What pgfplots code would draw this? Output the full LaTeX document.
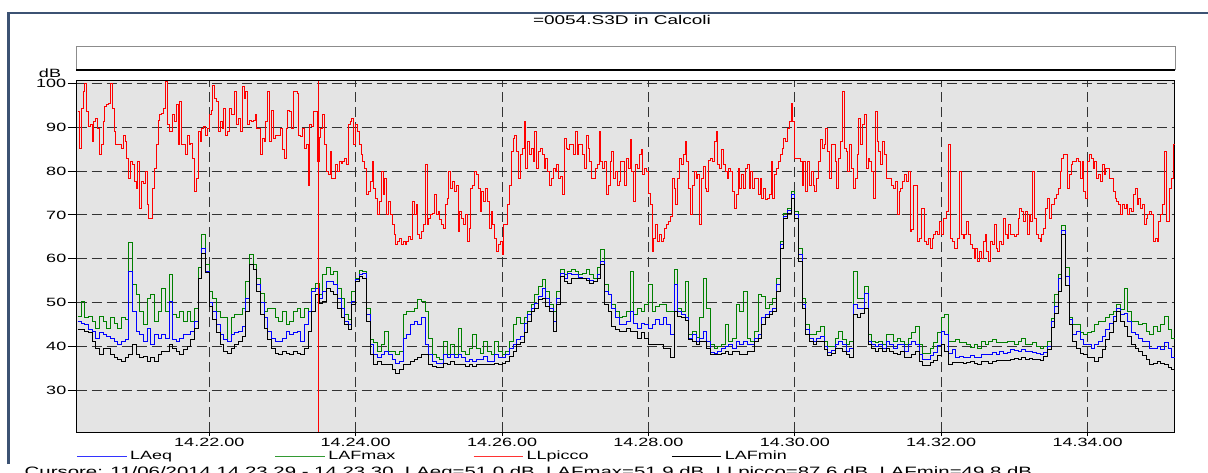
\documentclass[border=0pt]{standalone}
\usepackage{fontspec}
\setmainfont{Liberation Sans}
\newfontfamily\wfont[FakeStretch=1.5]{Liberation Sans}
\usepackage{pgfplots}
\usepackage{pgfplotstable}
\pgfplotsset{compat=1.18}
\definecolor{winframe}{RGB}{60,82,115}
\definecolor{plotbg}{RGB}{228,228,228}
\definecolor{lgreen}{RGB}{0,128,0}

% LAFmax (G), LAeq (B), LAFmin (K), 3 s steps
\pgfplotstableread{
t G B K
12 46.8 45.7 43.8
15 50.3 45.3 43.8
18 46.5 44.9 43.4
21 46.8 43.8 43.1
24 45.7 43.4 41.2
27 44.2 41.9 39.6
30 46.8 43.1 38.1
33 45.7 42.7 39.6
36 44.2 42.3 39.6
39 46.5 41.9 38.1
42 45.3 41.2 37.4
45 44.2 40.4 37.0
48 46.5 41.2 36.6
51 46.1 41.5 37.4
54 63.6 57.1 38.1
57 54.1 48.0 40.4
60 51.8 43.4 38.1
63 48.0 42.7 37.4
66 44.9 41.2 37.8
69 51.0 44.2 36.6
72 51.8 40.4 37.4
75 45.7 42.7 36.6
78 48.0 41.9 38.1
81 53.3 42.7 38.9
84 48.0 41.9 38.9
87 56.3 50.3 40.4
90 47.2 41.5 39.6
93 46.5 41.2 38.9
96 48.0 41.9 38.1
99 45.7 42.7 39.3
102 48.0 42.7 40.0
105 45.7 43.4 41.5
108 48.7 45.7 44.2
111 57.9 55.6 55.6
114 65.5 62.4 61.3
117 58.6 57.1 56.8
120 52.5 50.0 49.0
123 51.0 48.0 46.1
126 48.0 44.9 43.1
129 46.5 42.7 40.4
132 46.5 41.5 38.9
135 41.2 41.2 38.5
138 46.5 42.7 39.6
141 47.2 43.1 40.4
144 47.2 43.4 41.2
147 48.7 44.6 42.3
150 54.8 51.0 48.0
153 60.9 58.6 58.6
156 58.6 57.5 57.5
159 55.6 54.1 52.5
162 52.0 50.0 47.2
165 48.0 46.5 44.2
168 48.7 43.4 41.5
171 48.7 41.9 39.6
174 46.5 41.2 38.5
177 45.7 41.2 38.1
180 48.0 41.9 38.9
183 44.9 43.4 38.5
186 45.7 42.7 38.1
189 48.0 43.1 38.9
192 48.7 43.4 38.5
195 46.5 41.2 38.1
198 48.7 44.9 39.6
201 48.0 48.0 43.4
204 53.3 52.5 48.0
207 54.4 53.3 51.8
210 51.9 51.0 49.8
213 56.3 52.5 50.3
216 57.9 54.8 53.3
219 56.3 54.8 52.5
222 57.1 54.1 51.8
225 53.3 51.0 48.7
228 51.0 48.7 46.5
231 47.2 45.7 44.9
234 46.1 44.9 43.8
237 52.5 50.3 49.5
240 55.6 55.2 54.8
243 57.3 56.3 56.0
246 57.1 56.7 55.6
249 48.7 47.2 45.7
252 41.5 40.4 38.1
255 40.8 38.1 35.8
258 38.9 37.4 36.6
261 40.4 38.1 35.8
264 43.4 38.9 35.8
267 38.9 38.1 35.8
270 38.9 37.0 34.7
273 38.1 36.2 33.9
276 38.9 36.6 34.7
279 47.2 41.9 35.8
282 48.0 42.7 35.8
285 48.0 44.9 36.6
288 48.7 45.7 37.0
291 50.6 44.9 37.4
294 50.3 46.5 38.1
297 48.0 40.4 38.1
300 41.9 38.1 35.8
303 38.1 36.6 35.5
306 37.4 36.2 35.1
309 37.0 36.2 35.1
312 41.2 38.1 36.2
315 38.1 37.4 35.8
318 40.4 38.1 36.6
321 38.1 37.4 35.8
324 44.2 38.1 35.8
327 38.9 37.4 35.8
330 38.1 36.6 35.5
333 39.6 37.0 35.8
336 42.7 36.6 35.5
339 39.6 37.0 35.8
342 38.5 37.0 35.8
345 41.2 37.8 35.8
348 38.9 36.6 35.8
351 38.1 36.6 35.8
354 41.2 38.1 36.2
357 38.9 37.4 35.8
360 38.1 37.4 36.2
363 38.9 38.1 36.6
366 41.2 39.6 37.8
369 44.9 40.4 38.9
372 46.5 41.5 40.4
375 45.3 42.3 40.8
378 46.5 45.3 43.1
381 48.0 47.2 45.7
384 49.5 48.7 48.0
387 51.8 49.9 48.7
390 53.7 51.4 50.6
393 55.2 53.3 51.0
396 52.5 51.0 49.1
399 49.5 48.7 48.0
402 48.0 45.7 43.4
405 52.5 51.0 49.5
408 57.5 56.7 56.0
411 56.3 55.6 54.8
414 57.1 56.7 54.4
417 57.5 56.3 55.6
420 57.1 56.3 55.6
423 56.3 55.7 55.6
426 56.7 55.6 55.4
429 57.5 55.6 55.0
432 56.3 55.0 54.4
435 55.6 54.8 54.8
438 57.9 56.3 55.6
441 62.0 59.4 58.6
444 54.1 52.5 49.5
447 51.8 51.8 48.0
450 49.5 48.7 44.6
453 48.0 46.5 43.8
456 46.5 44.9 43.4
459 46.8 44.9 43.4
462 48.0 45.7 44.2
465 57.1 48.0 43.4
468 47.2 45.3 43.4
471 48.7 44.2 41.9
474 48.0 45.3 43.1
477 49.5 44.9 41.9
480 54.1 44.2 40.4
483 48.0 44.9 40.4
486 49.1 46.1 40.4
489 49.5 44.9 40.4
492 49.5 46.5 39.6
495 48.0 44.9 39.6
498 48.0 42.7 37.4
501 57.5 54.1 48.0
504 48.7 48.0 46.8
507 48.0 47.2 46.5
510 54.8 46.5 46.0
513 42.7 41.9 41.5
516 43.4 42.7 41.2
519 42.0 41.2 40.4
522 46.5 41.9 41.2
525 55.6 43.4 41.2
528 48.7 41.2 39.6
531 40.4 38.7 38.1
534 39.6 38.5 38.1
537 40.0 38.9 38.1
540 40.4 39.5 38.5
543 44.9 40.0 38.9
546 41.2 40.4 38.1
549 41.9 39.6 38.9
552 49.5 41.2 38.9
555 48.0 40.4 38.1
558 52.5 41.2 38.1
561 41.9 40.4 38.9
564 41.2 40.4 38.9
567 43.4 41.9 41.2
570 51.8 42.7 41.9
573 51.4 46.5 44.9
576 48.7 47.2 46.5
579 49.5 48.0 47.2
582 51.0 48.7 48.0
585 55.6 54.1 52.5
588 63.9 63.2 62.4
591 70.4 69.6 69.2
594 71.5 71.1 70.4
597 75.3 74.6 73.8
600 70.8 70.0 69.2
603 62.4 60.9 59.4
606 51.0 49.5 48.7
609 44.9 43.8 42.7
612 42.7 41.9 41.2
615 42.7 41.2 40.4
618 43.4 41.9 41.2
621 44.6 42.3 41.2
624 41.2 40.0 39.3
627 40.0 38.7 38.0
630 40.0 39.0 38.3
633 41.9 40.4 39.6
636 43.4 41.2 39.6
639 41.5 40.4 38.9
642 40.4 38.9 38.1
645 41.2 39.6 37.4
648 57.1 49.5 47.2
651 51.0 48.7 46.5
654 51.0 48.7 47.6
657 53.7 52.1 48.7
660 42.7 41.2 40.4
663 41.2 40.4 39.6
666 40.8 40.0 38.9
669 41.2 40.4 39.6
672 40.4 39.6 38.9
675 42.7 41.2 39.6
678 42.7 40.4 38.9
681 41.2 39.6 38.5
684 41.9 40.4 38.1
687 41.2 40.4 38.9
690 40.4 38.9 37.4
693 41.9 40.4 37.4
696 43.1 41.2 38.1
699 44.6 40.4 38.9
702 40.4 38.1 36.6
705 38.5 37.0 35.7
708 38.5 37.0 35.7
711 39.5 37.9 36.4
714 40.8 38.7 36.9
717 43.1 40.2 38.0
720 46.5 43.4 40.4
723 47.2 42.7 38.9
726 41.2 38.5 36.0
729 41.2 39.3 36.4
732 41.5 37.5 36.4
735 40.8 37.8 36.4
738 40.8 37.4 36.1
741 40.4 37.4 36.4
744 39.8 37.9 36.6
747 40.4 37.4 36.2
750 39.6 37.4 35.8
753 41.2 38.1 36.6
756 40.4 38.1 36.6
759 41.2 38.1 36.2
762 41.5 38.7 36.6
765 40.8 38.2 36.8
768 40.8 38.9 36.8
771 40.8 38.4 36.7
774 41.2 38.7 36.9
777 41.2 39.2 37.0
780 40.5 39.0 37.3
783 41.2 38.9 37.0
786 41.9 39.3 37.4
789 40.4 38.9 37.0
792 40.4 38.9 37.2
795 41.0 38.7 37.1
798 40.0 38.3 37.1
801 39.6 38.1 36.7
804 40.0 38.7 37.8
807 41.2 40.0 39.3
810 46.3 45.8 44.3
813 51.8 49.1 47.6
816 56.3 55.6 52.5
819 67.5 66.5 65.5
822 58.0 56.0 54.0
825 46.5 46.1 44.9
828 44.9 42.7 41.2
831 44.9 43.4 39.6
834 43.1 41.5 38.5
837 42.7 40.4 38.1
840 43.1 40.4 37.5
843 43.4 39.6 37.4
846 44.9 40.4 36.6
849 45.7 41.2 37.4
852 45.7 42.3 39.3
855 46.5 43.8 41.5
858 47.2 45.3 43.1
861 48.0 46.8 45.7
864 49.5 48.7 48.0
867 48.4 47.2 45.7
870 53.3 47.6 44.6
873 48.0 45.7 42.3
876 45.7 43.1 40.4
879 45.7 42.7 39.6
882 44.9 41.9 38.9
885 45.3 41.2 38.0
888 43.4 41.2 37.0
891 42.7 39.6 35.8
894 44.6 39.6 36.2
897 43.4 40.0 36.6
900 44.9 39.3 36.2
903 46.8 40.8 35.8
906 43.8 39.6 35.2
909 41.9 37.5 34.7
912 43.4 38.9 35.1
}\lowdata

% LLpicco, 1.5 s steps
\pgfplotstableread{
t R
12 93.5
13.5 85.2
15 94.3
16.5 98.1
18 100.0
19.5 93.5
21 90.1
22.5 90.5
24 86.7
25.5 91.3
27 92.0
28.5 89.7
30 83.7
31.5 86.0
33 91.3
34.5 94.7
36 95.1
37.5 95.4
39 100.0
40.5 94.3
42 89.0
43.5 86.0
45 86.0
46.5 86.0
48 85.2
49.5 88.2
51 86.7
52.5 82.9
54 78.4
55.5 82.2
57 81.4
58.5 77.6
60 76.1
61.5 82.2
63 71.5
64.5 77.6
66 77.2
67.5 79.9
69 72.3
70.5 69.2
72 69.2
73.5 76.1
75 80.6
76.5 86.0
78 91.6
79.5 92.8
81 93.2
82.5 94.3
84 100.3
85.5 90.5
87 89.0
88.5 89.0
90 92.8
91.5 91.3
93 95.1
94.5 86.0
96 95.8
97.5 86.0
99 86.0
100.5 83.7
102 88.2
103.5 86.0
105 86.3
106.5 82.9
108 75.3
109.5 78.4
111 89.0
112.5 86.7
114 89.7
115.5 90.1
117 88.2
118.5 89.7
120 92.8
121.5 93.9
123 99.6
124.5 96.6
126 95.8
127.5 89.0
129 91.3
130.5 89.7
132 94.3
133.5 88.2
135 89.0
136.5 94.3
138 92.8
139.5 92.8
141 98.1
142.5 90.5
144 92.0
145.5 89.0
147 99.2
148.5 96.6
150 98.1
151.5 90.5
153 91.6
154.5 91.3
156 91.6
157.5 92.8
159 89.7
160.5 89.7
162 83.7
163.5 87.5
165 86.7
166.5 91.3
168 98.1
169.5 86.7
171 93.9
172.5 87.5
174 88.2
175.5 88.2
177 88.1
178.5 89.7
180 84.8
181.5 82.9
183 89.7
184.5 93.9
186 93.5
187.5 89.7
189 98.1
190.5 98.1
192 97.7
193.5 88.2
195 87.9
196.5 89.7
198 85.2
199.5 86.0
201 76.8
202.5 90.5
204 90.1
205.5 93.5
207 93.5
208.5 82.2
210 87.6
211.5 89.7
213 92.8
214.5 86.0
216 79.9
217.5 79.1
219 84.4
220.5 78.4
222 78.4
223.5 81.4
225 79.9
226.5 82.2
228 81.8
229.5 82.2
231 82.9
232.5 81.4
234 90.5
235.5 91.3
237 92.0
238.5 86.0
240 90.5
241.5 89.0
243 86.0
244.5 83.7
246 82.2
247.5 80.6
249 74.6
250.5 75.3
252 77.5
253.5 82.2
255 76.1
256.5 73.8
258 70.0
259.5 73.0
261 79.9
262.5 74.6
264 78.4
265.5 70.0
267 73.0
268.5 70.0
270 67.7
271.5 65.5
273 63.2
274.5 63.9
276 64.7
277.5 63.2
279 63.9
280.5 63.2
282 63.9
283.5 65.1
285 64.3
286.5 73.0
288 70.0
289.5 72.3
291 65.5
292.5 64.7
294 66.2
295.5 67.7
297 81.4
298.5 67.7
300 69.2
301.5 70.0
303 70.4
304.5 74.6
306 70.0
307.5 70.8
309 68.9
310.5 67.7
312 67.0
313.5 72.3
315 73.8
316.5 79.9
318 76.1
319.5 77.6
321 75.3
322.5 76.8
324 66.2
325.5 70.8
327 69.2
328.5 67.7
330 70.0
331.5 63.9
333 67.0
334.5 76.1
336 76.8
337.5 79.9
339 79.1
340.5 76.1
342 70.8
343.5 75.3
345 73.0
346.5 76.1
348 73.0
349.5 67.0
351 70.8
352.5 67.7
354 64.7
355.5 61.7
357 63.2
358.5 63.9
360 60.9
361.5 67.7
363 67.7
364.5 72.3
366 76.8
367.5 84.4
369 87.5
370.5 88.2
372 84.4
373.5 78.4
375 83.7
376.5 85.2
378 91.3
379.5 80.6
381 86.7
382.5 83.7
384 85.2
385.5 82.2
387 89.0
388.5 80.6
390 84.4
391.5 85.2
393 83.7
394.5 80.6
396 82.9
397.5 79.9
399 76.8
400.5 78.4
402 80.6
403.5 79.9
405 81.4
406.5 78.4
408 78.7
409.5 74.6
411 87.5
412.5 85.2
414 84.8
415.5 86.0
417 86.0
418.5 83.7
420 89.0
421.5 83.7
423 86.0
424.5 86.0
426 83.7
427.5 80.6
429 88.2
430.5 85.2
432 82.2
433.5 78.4
435 78.4
436.5 80.6
438 81.4
439.5 89.0
441 82.2
442.5 80.6
444 82.2
445.5 74.6
447 76.8
448.5 82.2
450 84.4
451.5 78.4
453 79.9
454.5 76.8
456 77.5
457.5 82.2
459 82.2
460.5 76.8
462 82.9
463.5 80.6
465 87.1
466.5 79.9
468 73.0
469.5 81.4
471 80.6
472.5 83.7
474 84.8
475.5 79.1
477 80.6
478.5 79.9
480 74.9
481.5 72.3
483 61.7
484.5 64.7
486 67.7
487.5 63.9
489 65.5
490.5 63.9
492 64.7
493.5 67.0
495 67.7
496.5 68.5
498 69.6
499.5 78.4
501 76.1
502.5 72.3
504 78.4
505.5 82.9
507 81.4
508.5 83.7
510 86.7
511.5 82.2
513 76.1
514.5 70.0
516 76.8
517.5 79.9
519 78.4
520.5 79.1
522 67.7
523.5 78.4
525 81.0
526.5 76.1
528 75.3
529.5 82.5
531 82.9
532.5 82.2
534 86.7
535.5 89.0
537 81.4
538.5 80.6
540 84.8
541.5 81.4
543 79.9
544.5 78.4
546 80.6
547.5 79.9
549 75.3
550.5 71.5
552 74.6
553.5 80.6
555 76.1
556.5 79.1
558 76.1
559.5 80.6
561 81.4
562.5 76.1
564 79.9
565.5 76.1
567 78.4
568.5 78.4
570 74.6
571.5 78.4
573 73.8
574.5 76.1
576 73.4
577.5 73.8
579 74.6
580.5 82.2
582 73.8
583.5 79.1
585 80.6
586.5 82.2
588 83.7
589.5 85.2
591 87.5
592.5 86.7
594 89.7
595.5 91.3
597 95.4
598.5 91.3
600 82.9
601.5 82.9
603 82.9
604.5 82.2
606 76.8
607.5 82.2
609 75.3
610.5 82.2
612 76.8
613.5 79.9
615 76.8
616.5 75.3
618 78.4
619.5 82.2
621 87.1
622.5 85.2
624 86.0
625.5 89.7
627 84.4
628.5 78.4
630 86.0
631.5 86.0
633 82.2
634.5 76.1
636 82.9
637.5 86.7
639 98.1
640.5 85.2
642 84.4
643.5 79.9
645 86.0
646.5 80.6
648 76.1
649.5 78.4
651 83.7
652.5 92.0
654 86.0
655.5 90.5
657 92.8
658.5 80.6
660 82.9
661.5 82.2
663 79.9
664.5 73.8
666 93.5
667.5 86.7
669 84.4
670.5 81.4
672 86.7
673.5 83.7
675 78.4
676.5 78.4
678 78.4
679.5 76.8
681 76.1
682.5 77.6
684 70.0
685.5 75.3
687 76.1
688.5 77.5
690 79.1
691.5 77.5
693 79.9
694.5 66.2
696 66.6
697.5 76.8
699 76.8
700.5 63.9
702 64.7
703.5 71.5
705 71.5
706.5 63.9
708 63.2
709.5 64.7
711 62.4
712.5 64.7
714 65.5
715.5 66.2
717 65.5
718.5 68.5
720 65.5
721.5 69.2
723 69.2
724.5 70.8
726 86.0
727.5 64.7
729 63.9
730.5 62.4
732 62.4
733.5 64.7
735 79.9
736.5 65.5
738 64.7
739.5 65.5
741 68.5
742.5 65.5
744 63.2
745.5 62.4
747 60.1
748.5 62.4
750 59.4
751.5 61.7
753 60.1
754.5 63.9
756 65.5
757.5 61.7
759 59.4
760.5 63.9
762 63.2
763.5 67.7
765 62.4
766.5 61.7
768 63.9
769.5 63.2
771 69.2
772.5 65.5
774 64.7
775.5 67.7
777 65.5
778.5 65.5
780 65.1
781.5 65.5
783 69.2
784.5 71.5
786 70.8
787.5 68.5
789 70.8
790.5 65.5
792 70.0
793.5 68.5
795 79.9
796.5 69.2
798 65.5
799.5 64.7
801 63.9
802.5 65.5
804 67.0
805.5 71.5
807 73.8
808.5 69.2
810 72.3
811.5 72.3
813 73.8
814.5 74.6
816 76.1
817.5 79.9
819 82.9
820.5 83.7
822 83.7
823.5 76.1
825 79.1
826.5 81.4
828 82.2
829.5 82.2
831 82.9
832.5 82.2
834 78.4
835.5 82.2
837 75.3
838.5 73.8
840 82.2
841.5 83.7
843 82.9
844.5 80.6
846 82.2
847.5 78.4
849 79.1
850.5 77.6
852 81.4
853.5 79.1
855 80.6
856.5 80.6
858 78.4
859.5 78.4
861 75.3
862.5 73.8
864 73.0
865.5 72.3
867 70.0
868.5 72.3
870 71.5
871.5 72.3
873 70.0
874.5 71.5
876 70.8
877.5 74.6
879 76.1
880.5 72.3
882 73.8
883.5 71.5
885 72.3
886.5 67.7
888 69.2
889.5 70.0
891 70.8
892.5 70.0
894 63.9
895.5 64.7
897 63.9
898.5 68.5
900 70.0
901.5 72.3
903 84.4
904.5 68.5
906 68.5
907.5 76.1
909 78.4
910.5 86.0
912 86.7
}\reddata

\begin{document}
\begin{tikzpicture}
\useasboundingbox (0pt,0pt) rectangle (906pt,354pt);
\fill[white] (0pt,0pt) rectangle (906pt,354pt);
% window frame
\draw[winframe, line width=1.6pt] (6.4pt,6pt) -- (6.4pt,344.3pt) -- (906pt,344.3pt);
\node[font=\wfont\fontsize{9.5}{11}\selectfont] at (466.5pt,339pt) {=0054.S3D in Calcoli};
% empty box
\draw[black!45, fill=white, line width=0.75pt] (57pt,301.5pt) rectangle (881.25pt,318.75pt);
\draw[black, line width=1.3pt] (57pt,301.5pt) -- (881.25pt,301.5pt);
\node[font=\wfont\fontsize{9}{10}\selectfont] at (37.5pt,299pt) {dB};
\begin{axis}[
  at={(57.5pt,30pt)}, anchor=south west,
  scale only axis, width=823.7pt, height=263.5pt,
  xmin=11.3, xmax=911.6, ymin=20.5, ymax=100.6,
  axis background/.style={fill=plotbg},
  axis line style={black, line width=0.75pt},
  xtick={120,240,360,480,600,720,840},
  xticklabels={14.22.00,14.24.00,14.26.00,14.28.00,14.30.00,14.32.00,14.34.00},
  ytick={30,40,50,60,70,80,90,100},
  grid=major,
  major grid style={black!80, line width=0.75pt, dash pattern=on 7.5pt off 3.75pt},
  tick align=outside, tick pos=left,
  xtick style={black, line width=0.75pt, /pgfplots/major tick length=3pt},
  ytick style={black, line width=0.75pt, /pgfplots/major tick length=6.75pt},
  ticklabel style={font=\wfont\fontsize{9}{10}\selectfont},
  xticklabel style={yshift=3.5pt},
  /pgf/number format/assume math mode=true,
  legend columns=4,
  legend cell align=left,
  legend style={at={(0,0)}, anchor=west, yshift=-18pt, draw=none, fill=none,
    inner sep=0pt, outer sep=0pt, font=\wfont\fontsize{9}{10}\selectfont,
    nodes={inner sep=0pt},
    /tikz/every odd column/.append style={column sep=2.4pt}},
  legend image code/.code={\draw[#1] (0pt,0pt) -- (37pt,0pt);},
]
\addplot[const plot, lgreen, line width=0.75pt, forget plot] table[x=t, y=G] {\lowdata};
\addplot[const plot, blue, line width=0.75pt, forget plot] table[x=t, y=B] {\lowdata};
\addplot[const plot, red, line width=0.75pt, forget plot] table[x=t, y=R] {\reddata};
\addplot[const plot, black, line width=0.75pt, forget plot] table[x=t, y=K] {\lowdata};
\addplot[red, line width=0.75pt, forget plot] coordinates {(209.5,20.5) (209.5,100.6)};
\addlegendimage{blue!80, line width=0.75pt}
\addlegendentry{\makebox[108.5pt][l]{LAeq}}
\addlegendimage{lgreen!80, line width=0.75pt}
\addlegendentry{\makebox[108.5pt][l]{LAFmax}}
\addlegendimage{red!80, line width=0.75pt}
\addlegendentry{\makebox[108.5pt][l]{LLpicco}}
\addlegendimage{black, line width=0.75pt}
\addlegendentry{\makebox[108.5pt][l]{LAFmin}}
\end{axis}
\node[anchor=base west, font=\wfont\fontsize{10.2}{11}\selectfont] at (15pt,-3.5pt) {Cursore: 11/06/2014 14.23.29 - 14.23.30 \ LAeq=51.0 dB \ LAFmax=51.9 dB \ LLpicco=87.6 dB \ LAFmin=49.8 dB};
\end{tikzpicture}
\end{document}
